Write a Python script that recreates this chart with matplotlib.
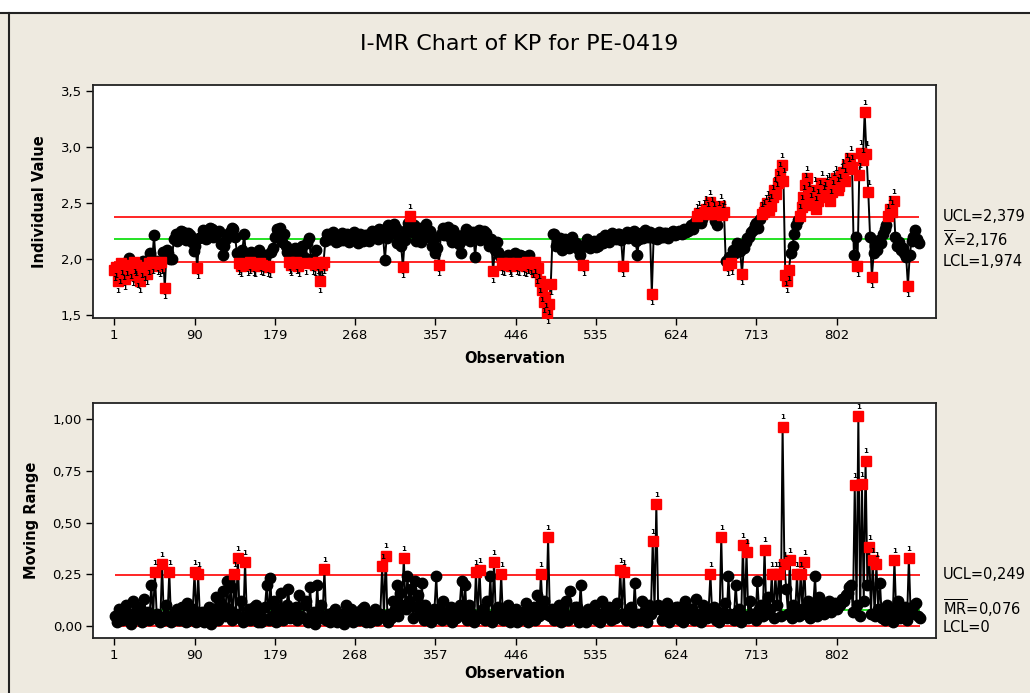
import numpy as np
import matplotlib.pyplot as plt
from matplotlib.lines import Line2D
from matplotlib.patches import Rectangle

# individual values, every 2nd observation (obs 1, 3, 5, ... 893)
ind_values = [
    1.90, 1.93, 1.80, 1.88, 1.96, 1.91, 1.82, 1.95, 2.01, 1.92, 1.86, 1.97, 1.95, 1.84, 1.80, 1.93, 1.98, 1.90, 1.87, 1.96,
    2.05, 1.97, 2.21, 1.98, 1.96, 1.94, 1.97, 2.06, 1.74, 2.08, 2.05, 2.00, 2.00, 2.18, 2.22, 2.16, 2.18, 2.25, 2.24, 2.19,
    2.17, 2.23, 2.21, 2.15, 2.07, 2.12, 1.92, 2.19, 2.20, 2.26, 2.25, 2.18, 2.22, 2.28, 2.27, 2.20, 2.21, 2.24, 2.25, 2.13,
    2.04, 2.12, 2.18, 2.22, 2.24, 2.28, 2.27, 2.20, 2.05, 1.96, 1.94, 2.08, 2.22, 2.04, 1.95, 1.97, 2.06, 1.95, 1.94, 2.03,
    2.08, 1.96, 1.95, 2.02, 2.04, 1.94, 1.93, 2.06, 2.10, 2.20, 2.27, 2.24, 2.28, 2.15, 2.22, 2.12, 2.06, 1.97, 1.95, 2.05,
    2.10, 1.97, 1.94, 2.05, 2.12, 2.02, 1.96, 2.14, 2.19, 2.00, 1.96, 1.95, 2.08, 1.97, 1.80, 1.95, 1.97, 2.16, 2.22, 2.18,
    2.18, 2.24, 2.21, 2.15, 2.16, 2.20, 2.23, 2.17, 2.19, 2.22, 2.15, 2.19, 2.20, 2.24, 2.18, 2.14, 2.22, 2.19, 2.16, 2.21,
    2.21, 2.16, 2.19, 2.25, 2.24, 2.20, 2.18, 2.27, 2.26, 2.21, 1.99, 2.19, 2.30, 2.22, 2.24, 2.31, 2.28, 2.14, 2.20, 2.12,
    1.93, 2.17, 2.26, 2.32, 2.38, 2.24, 2.30, 2.16, 2.22, 2.28, 2.15, 2.21, 2.27, 2.31, 2.20, 2.25, 2.12, 2.18, 2.05, 2.10,
    1.95, 2.22, 2.28, 2.21, 2.24, 2.29, 2.20, 2.15, 2.26, 2.22, 2.18, 2.13, 2.05, 2.17, 2.22, 2.27, 2.25, 2.16, 2.19, 2.24,
    2.02, 2.19, 2.26, 2.17, 2.20, 2.25, 2.23, 2.16, 2.12, 2.18, 1.89, 2.08, 2.15, 2.06, 2.03, 1.96, 1.95, 2.01, 2.04, 1.96,
    1.94, 2.02, 2.05, 1.96, 1.95, 2.04, 2.03, 1.95, 1.94, 1.97, 2.04, 1.96, 1.93, 1.97, 1.88, 1.92, 1.80, 1.72, 1.62, 1.66,
    1.52, 1.60, 1.78, 2.22, 2.22, 2.12, 2.15, 2.19, 2.08, 2.14, 2.18, 2.11, 2.10, 2.17, 2.20, 2.13, 2.14, 2.09, 2.04, 2.12,
    1.95, 2.12, 2.18, 2.13, 2.10, 2.15, 2.16, 2.11, 2.12, 2.17, 2.19, 2.14, 2.21, 2.17, 2.15, 2.20, 2.23, 2.19, 2.18, 2.22,
    2.22, 2.17, 1.94, 2.20, 2.24, 2.19, 2.20, 2.23, 2.25, 2.16, 2.04, 2.18, 2.23, 2.19, 2.26, 2.22, 2.20, 2.24, 1.69, 2.19,
    2.22, 2.18, 2.24, 2.20, 2.20, 2.23, 2.23, 2.19, 2.21, 2.24, 2.25, 2.21, 2.22, 2.25, 2.24, 2.22, 2.27, 2.24, 2.25, 2.29,
    2.30, 2.27, 2.33, 2.38, 2.41, 2.32, 2.36, 2.42, 2.45, 2.40, 2.51, 2.44, 2.40, 2.34, 2.30, 2.41, 2.47, 2.39, 2.42, 1.98,
    1.95, 2.02, 1.96, 2.08, 2.05, 2.14, 2.12, 2.07, 1.87, 2.10, 2.15, 2.19, 2.20, 2.24, 2.26, 2.30, 2.32, 2.28, 2.36, 2.40,
    2.42, 2.46, 2.50, 2.44, 2.47, 2.55, 2.62, 2.58, 2.68, 2.76, 2.84, 2.70, 1.86, 1.80, 1.90, 2.05, 2.12, 2.22, 2.30, 2.35,
    2.38, 2.46, 2.55, 2.66, 2.72, 2.58, 2.48, 2.53, 2.62, 2.45, 2.52, 2.60, 2.68, 2.55, 2.58, 2.64, 2.66, 2.52, 2.60, 2.68,
    2.72, 2.62, 2.65, 2.74, 2.78, 2.70, 2.84, 2.80, 2.90, 2.82, 2.04, 2.20, 1.94, 2.75, 2.95, 2.88, 3.31, 2.94, 2.60, 2.20,
    1.84, 2.05, 2.12, 2.08, 2.17, 2.14, 2.22, 2.27, 2.30, 2.38, 2.45, 2.42, 2.52, 2.20, 2.12, 2.15, 2.08, 2.10, 2.05, 2.02,
    1.76, 2.04, 2.16, 2.20, 2.26, 2.18, 2.14,
]

# moving ranges, every 2nd observation (obs 2, 4, 6, ... 894)
mr_values = [
    0.05, 0.02, 0.08, 0.04, 0.03, 0.07, 0.10, 0.03, 0.06, 0.01, 0.12, 0.05, 0.04, 0.08, 0.09, 0.02, 0.13, 0.04, 0.07, 0.03,
    0.20, 0.04, 0.26, 0.06, 0.05, 0.02, 0.30, 0.03, 0.10, 0.05, 0.26, 0.02, 0.04, 0.07, 0.08, 0.03, 0.03, 0.09, 0.06, 0.02,
    0.11, 0.03, 0.05, 0.08, 0.26, 0.02, 0.25, 0.04, 0.07, 0.02, 0.03, 0.06, 0.09, 0.01, 0.05, 0.08, 0.14, 0.03, 0.06, 0.10,
    0.17, 0.05, 0.22, 0.08, 0.19, 0.03, 0.25, 0.06, 0.33, 0.04, 0.12, 0.02, 0.31, 0.05, 0.08, 0.03, 0.05, 0.09, 0.10, 0.02,
    0.07, 0.02, 0.04, 0.09, 0.20, 0.03, 0.23, 0.05, 0.12, 0.02, 0.08, 0.04, 0.16, 0.03, 0.06, 0.10, 0.18, 0.04, 0.05, 0.08,
    0.09, 0.03, 0.15, 0.05, 0.04, 0.10, 0.12, 0.02, 0.19, 0.06, 0.07, 0.01, 0.20, 0.04, 0.10, 0.05, 0.275, 0.03, 0.06, 0.02,
    0.04, 0.07, 0.08, 0.02, 0.03, 0.06, 0.06, 0.01, 0.10, 0.04, 0.05, 0.08, 0.02, 0.05, 0.07, 0.03, 0.04, 0.08, 0.09, 0.02,
    0.05, 0.02, 0.03, 0.07, 0.08, 0.03, 0.04, 0.06, 0.29, 0.05, 0.34, 0.02, 0.06, 0.04, 0.12, 0.08, 0.20, 0.05, 0.16, 0.10,
    0.33, 0.08, 0.24, 0.12, 0.18, 0.04, 0.22, 0.09, 0.15, 0.06, 0.21, 0.03, 0.10, 0.05, 0.06, 0.02, 0.05, 0.08, 0.24, 0.04,
    0.08, 0.03, 0.12, 0.05, 0.04, 0.07, 0.09, 0.02, 0.07, 0.04, 0.05, 0.10, 0.22, 0.06, 0.20, 0.03, 0.10, 0.05, 0.06, 0.02,
    0.26, 0.04, 0.27, 0.06, 0.08, 0.03, 0.12, 0.05, 0.24, 0.02, 0.31, 0.06, 0.09, 0.04, 0.25, 0.03, 0.05, 0.08, 0.10, 0.02,
    0.06, 0.03, 0.08, 0.02, 0.03, 0.06, 0.07, 0.04, 0.11, 0.02, 0.04, 0.07, 0.09, 0.03, 0.15, 0.05, 0.25, 0.08, 0.12, 0.06,
    0.43, 0.05, 0.08, 0.03, 0.05, 0.07, 0.10, 0.02, 0.07, 0.04, 0.12, 0.03, 0.17, 0.05, 0.06, 0.09, 0.09, 0.02, 0.20, 0.06,
    0.05, 0.02, 0.08, 0.04, 0.04, 0.07, 0.10, 0.03, 0.06, 0.02, 0.12, 0.05, 0.05, 0.08, 0.09, 0.03, 0.07, 0.04, 0.11, 0.05,
    0.27, 0.06, 0.26, 0.03, 0.05, 0.08, 0.09, 0.02, 0.21, 0.05, 0.06, 0.03, 0.12, 0.07, 0.04, 0.02, 0.10, 0.06, 0.41, 0.08,
    0.59, 0.10, 0.08, 0.03, 0.05, 0.07, 0.11, 0.02, 0.07, 0.05, 0.04, 0.09, 0.09, 0.03, 0.06, 0.02, 0.12, 0.04, 0.05, 0.08,
    0.08, 0.03, 0.13, 0.05, 0.06, 0.02, 0.10, 0.04, 0.04, 0.08, 0.25, 0.05, 0.09, 0.03, 0.07, 0.02, 0.43, 0.06, 0.11, 0.04,
    0.24, 0.06, 0.05, 0.03, 0.20, 0.07, 0.08, 0.02, 0.39, 0.05, 0.36, 0.04, 0.12, 0.06, 0.06, 0.03, 0.22, 0.08, 0.10, 0.05,
    0.37, 0.06, 0.14, 0.08, 0.25, 0.04, 0.25, 0.10, 0.25, 0.05, 0.965, 0.30, 0.18, 0.06, 0.32, 0.04, 0.10, 0.07, 0.25, 0.05,
    0.25, 0.08, 0.31, 0.06, 0.12, 0.04, 0.08, 0.10, 0.24, 0.05, 0.14, 0.08, 0.10, 0.06, 0.07, 0.09, 0.12, 0.07, 0.09, 0.11,
    0.08, 0.11, 0.10, 0.13, 0.12, 0.15, 0.16, 0.19, 0.20, 0.07, 0.68, 0.10, 1.016, 0.05, 0.685, 0.12, 0.80, 0.20, 0.38, 0.06,
    0.32, 0.05, 0.30, 0.08, 0.21, 0.04, 0.06, 0.03, 0.10, 0.05, 0.08, 0.02, 0.32, 0.06, 0.12, 0.04, 0.05, 0.08, 0.09, 0.03,
    0.33, 0.06, 0.07, 0.10, 0.11, 0.05, 0.04,
]

obs_step = 2
ucl_i, cl_i, lcl_i = 2.379, 2.176, 1.974
ucl_mr, cl_mr, lcl_mr = 0.249, 0.076, 0.0

xtick_obs = [1, 90, 179, 268, 357, 446, 535, 624, 713, 802]
i_ticks = [1.5, 2.0, 2.5, 3.0, 3.5]
i_ticklabels = ['1,5', '2,0', '2,5', '3,0', '3,5']
mr_ticks = [0.0, 0.25, 0.5, 0.75, 1.0]
mr_ticklabels = ['0,00', '0,25', '0,50', '0,75', '1,00']

bg = '#EEEAE0'
W, H = 1030, 693

ind_obs = 1 + obs_step * np.arange(len(ind_values))
mr_obs = 2 + obs_step * np.arange(len(mr_values))


def draw_panel(ax, obs, vals, ucl, cl, lcl):
    vals = np.asarray(vals)
    ax.hlines([ucl, lcl], obs[0], obs[-1], color='#FF0000', lw=1.2, zorder=1)
    ax.hlines(cl, obs[0], obs[-1], color='#00DD00', lw=1.2, zorder=1)
    ax.plot(obs, vals, color='black', lw=1.4, zorder=2)
    out = (vals > ucl) | (vals < lcl)
    ax.plot(obs[~out], vals[~out], 'o', ms=7.5, color='black', zorder=3)
    ax.plot(obs[out], vals[out], 's', ms=6.5, color='#FF0000', mec='#FF0000', zorder=4)
    for x, y in zip(obs[out], vals[out]):
        up = y > ucl
        ax.annotate('1', (x, y), xytext=(0, 4.5 if up else -4.5), textcoords='offset points',
                    ha='center', va='bottom' if up else 'top', fontsize=5,
                    fontweight='bold', zorder=5)


def style_axis(ax, ylabel, lab_x, obs_lab_y):
    ax.set_xlim(-22.6, 912.1)
    ax.set_xticks(xtick_obs)
    ax.set_xticklabels([str(t) for t in xtick_obs])
    ax.tick_params(direction='out', length=5, width=1, labelsize=9.5, pad=3)
    for s in ax.spines.values():
        s.set_linewidth(1.3)
        s.set_color('#222222')
    ax.set_ylabel(ylabel, fontsize=10.5, fontweight='bold')
    ax.yaxis.set_label_coords(lab_x, 0.5)
    ax.set_xlabel('Observation', fontsize=10.5, fontweight='bold')
    ax.xaxis.set_label_coords(0.5, obs_lab_y)


fig = plt.figure(figsize=(W / 100, H / 100), dpi=100, facecolor=bg)
fig.patches.append(Rectangle((0, 1 - 12 / H), 1, 12 / H, transform=fig.transFigure,
                             facecolor='white', edgecolor='none'))
fig.lines.append(Line2D([0, 1], [1 - 12.5 / H] * 2, transform=fig.transFigure,
                        color='#222222', lw=1.5))
fig.lines.append(Line2D([8.5 / W] * 2, [0, 1 - 12.5 / H], transform=fig.transFigure,
                        color='#222222', lw=1.5))

fig.text(519 / W, 1 - 44 / H, 'I-MR Chart of KP for PE-0419', ha='center', va='center',
         fontsize=16)

# I chart
ax1 = fig.add_axes([93 / W, 1 - 318 / H, 843 / W, 233 / H])
draw_panel(ax1, ind_obs, ind_values, ucl_i, cl_i, lcl_i)
ax1.set_ylim(1.473, 3.554)
ax1.set_yticks(i_ticks)
ax1.set_yticklabels(i_ticklabels)
style_axis(ax1, 'Individual Value', -0.055, -0.14)

lx = (943 - 93) / 843
ax1.text(lx, ucl_i, 'UCL=2,379', transform=ax1.get_yaxis_transform(), va='center', fontsize=10.5)
ax1.text(lx, cl_i, r'$\overline{\mathrm{X}}$=2,176', transform=ax1.get_yaxis_transform(),
         va='center', fontsize=10.5)
ax1.text(lx, lcl_i, 'LCL=1,974', transform=ax1.get_yaxis_transform(), va='center', fontsize=10.5)

# MR chart
ax2 = fig.add_axes([93 / W, 1 - 638 / H, 843 / W, 235 / H])
draw_panel(ax2, mr_obs, mr_values, ucl_mr, cl_mr, lcl_mr)
ax2.set_ylim(-0.058, 1.079)
ax2.set_yticks(mr_ticks)
ax2.set_yticklabels(mr_ticklabels)
style_axis(ax2, 'Moving Range', -0.064, -0.12)

ax2.text(lx, ucl_mr, 'UCL=0,249', transform=ax2.get_yaxis_transform(), va='center', fontsize=10.5)
ax2.text(lx, 0.088, r'$\overline{\mathrm{MR}}$=0,076', transform=ax2.get_yaxis_transform(),
         va='center', fontsize=10.5)
ax2.text(lx, lcl_mr - 0.005, 'LCL=0', transform=ax2.get_yaxis_transform(), va='center', fontsize=10.5)

fig.savefig('out.png', dpi=100, facecolor=fig.get_facecolor())
